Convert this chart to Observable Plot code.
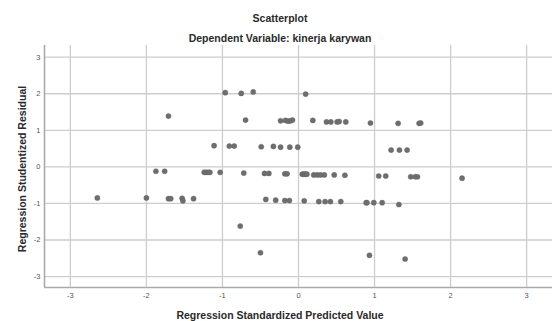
<!DOCTYPE html>
<html><head><meta charset="utf-8">
<script src="https://cdn.jsdelivr.net/npm/d3@7"></script>
<script src="https://cdn.jsdelivr.net/npm/@observablehq/plot@0.6"></script>
<style>
body{margin:0;background:#fff;}
#wrap{position:relative;width:553px;height:321px;font-family:"Liberation Sans",Arial,sans-serif;}
#wrap svg{position:absolute;left:0;top:0;}
.t{position:absolute;font-weight:bold;color:#2a2a2a;white-space:nowrap;font-size:10.5px;transform:translate(-50%,-50%);}
.rot{transform:translate(-50%,-50%) rotate(-90deg);}
</style></head><body><div id="wrap"></div>
<script>
const chartTitle = "Scatterplot";
const chartSubtitle = "Dependent Variable: kinerja karywan";
const xLabel = "Regression Standardized Predicted Value";
const yLabel = "Regression Studentized Residual";
const tickValues = [-3, -2, -1, 0, 1, 2, 3];

const predicted = [
  -0.963, -0.753, -0.595, 0.094,
  -1.71, -0.696, -0.236, -0.171, -0.136, -0.105, -0.079, 0.188, 0.368, 0.425, 0.508, 0.535, 0.622, 0.946, 1.31, 1.586, 1.607,
  -1.11, -0.91, -0.845, -0.49, -0.33, -0.236, -0.114, -0.01, 1.218, 1.327, 1.428,
  -1.875, -1.76, -1.24, -1.215, -1.19, -1.165, -1.03, -0.72, -0.447, -0.39, -0.18, -0.15, 0.05, 0.07, 0.09, 0.11, 0.20, 0.245, 0.29, 0.34, 0.47, 0.61, 1.055, 1.147, 1.476, 1.537, 1.564, 2.151,
  -2.645, -2.0, -1.71, -1.68, -1.53, -1.52, -1.38, -0.43, -0.30, -0.18, -0.12, 0.075, 0.267, 0.35, 0.42, 0.556, 0.89, 0.90, 0.99, 1.10, 1.32,
  -0.766, -0.50, 0.933, 1.402
];
const residual = [
  2.03, 2.01, 2.05, 1.99,
  1.39, 1.28, 1.26, 1.27, 1.25, 1.26, 1.28, 1.27, 1.23, 1.23, 1.23, 1.24, 1.23, 1.20, 1.19, 1.19, 1.20,
  0.58, 0.57, 0.57, 0.55, 0.56, 0.54, 0.54, 0.54, 0.46, 0.46, 0.46,
  -0.12, -0.12, -0.15, -0.15, -0.15, -0.15, -0.15, -0.17, -0.18, -0.18, -0.19, -0.19, -0.20, -0.20, -0.20, -0.20, -0.22, -0.22, -0.22, -0.22, -0.22, -0.23, -0.25, -0.25, -0.27, -0.27, -0.27, -0.31,
  -0.85, -0.85, -0.87, -0.87, -0.86, -0.93, -0.87, -0.89, -0.91, -0.92, -0.92, -0.93, -0.95, -0.95, -0.95, -0.95, -0.98, -0.98, -0.98, -0.98, -1.03,
  -1.62, -2.35, -2.42, -2.52
];

const data = predicted.map((x, i) => ({x, y: residual[i]}));
const xDomain = [-3.34, 3.34];
const yDomain = [-3.3, 3.32];

const plot = Plot.plot({
  width: 553, height: 321,
  marginLeft: 44, marginRight: 1, marginTop: 45, marginBottom: 34,
  style: {fontFamily: "Liberation Sans, Arial, sans-serif", fontSize: "7.5px", color: "#555", background: "transparent"},
  x: {domain: xDomain, ticks: tickValues, tickFormat: d => String(d), tickSize: 0, tickPadding: 5, label: null},
  y: {domain: yDomain, ticks: tickValues, tickFormat: d => String(d), tickSize: 0, tickPadding: 4, label: null},
  marks: [
    Plot.gridX(tickValues, {stroke: "#cdcdcd", strokeOpacity: 1, strokeWidth: 1.3}),
    Plot.gridY(tickValues, {stroke: "#cdcdcd", strokeOpacity: 1, strokeWidth: 1.3}),
    Plot.ruleX([xDomain[0]], {stroke: "#aaaaaa", strokeWidth: 1.6}),
    Plot.ruleY([yDomain[0]], {stroke: "#aaaaaa", strokeWidth: 1.6}),
    Plot.dot(data, {x: "x", y: "y", r: 2.6, fill: "#6e6e6e", stroke: "#626262", strokeWidth: 0.4})
  ]
});

const wrap = document.getElementById("wrap");
wrap.appendChild(plot);
function addText(txt, x, y, cls) {
  const d = document.createElement("div");
  d.className = "t" + (cls ? " " + cls : "");
  d.textContent = txt;
  d.style.left = x + "px";
  d.style.top = y + "px";
  wrap.appendChild(d);
}
addText(chartTitle, 280, 17.5);
addText(chartSubtitle, 280, 37.5);
addText(xLabel, 280, 314.5);
addText(yLabel, 21.5, 169, "rot");
</script></body></html>
